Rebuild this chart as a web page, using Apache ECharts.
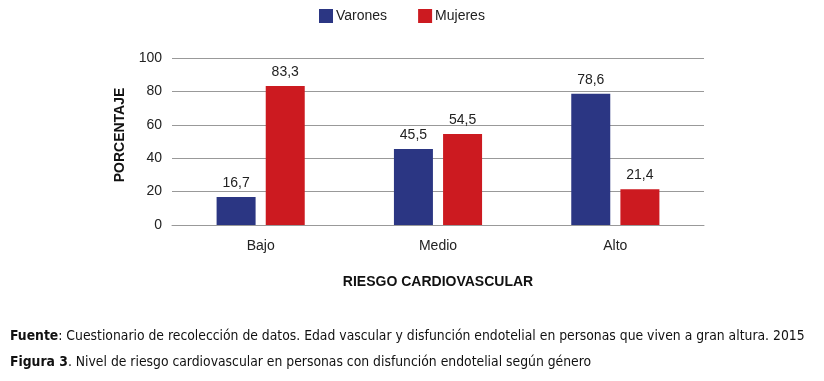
<!DOCTYPE html>
<html><head><meta charset="utf-8">
<script src="https://cdn.jsdelivr.net/npm/echarts@6/dist/echarts.min.js"></script>
<style>html,body{margin:0;padding:0;background:#fff}#c{width:824px;height:381px}</style>
</head><body><div id="c"></div>
<script>
const categories = ['Bajo', 'Medio', 'Alto'];
const varones = [16.7, 45.5, 78.6];
const mujeres = [83.3, 54.5, 21.4];
const yTicks = { min: 0, max: 100, interval: 20 };
const seriesNames = ['Varones', 'Mujeres'];

const FONT = 'Arial';
const chart = echarts.init(document.getElementById('c'), null, { renderer: 'canvas' });
const fmt = p => String(p.value).replace('.', ',');
const lbl = { show: true, position: 'top', distance: 7, formatter: fmt, fontFamily: FONT, fontSize: 14, color: '#222' };
chart.setOption({
  animation: false,
  legend: {
    top: 4, left: 314, itemWidth: 14, itemHeight: 14, itemGap: 31,
    icon: 'rect',
    textStyle: { fontFamily: FONT, fontSize: 14, color: '#222', padding: [0, 0, 0, -2] },
    data: seriesNames
  },
  grid: { left: 172, right: 120, top: 58, bottom: 156, containLabel: false },
  xAxis: {
    type: 'category', data: categories,
    axisLine: { lineStyle: { color: '#999' } },
    axisTick: { show: false },
    axisLabel: { fontFamily: FONT, fontSize: 14, color: '#222', margin: 14 },
    name: 'RIESGO CARDIOVASCULAR', nameLocation: 'middle', nameGap: 50,
    nameTextStyle: { fontFamily: FONT, fontWeight: 'bold', fontSize: 14, color: '#111' }
  },
  yAxis: {
    type: 'value', min: yTicks.min, max: yTicks.max, interval: yTicks.interval,
    axisLine: { show: false }, axisTick: { show: false },
    splitLine: { lineStyle: { color: '#999' } },
    axisLabel: { fontFamily: FONT, fontSize: 14, color: '#222', margin: 10 }
  },
  series: [
    { name: seriesNames[0], type: 'bar', data: varones, barWidth: 39, barGap: '26%', itemStyle: { color: '#2b3683' }, label: lbl },
    { name: seriesNames[1], type: 'bar', data: mujeres, barWidth: 39, itemStyle: { color: '#cc1a20' }, label: lbl }
  ],
  graphic: [
    { type: 'text', x: 120, y: 135, rotation: Math.PI / 2,
      style: { text: 'PORCENTAJE', align: 'center', verticalAlign: 'middle', font: 'bold 14px Arial', fill: '#111' } },
    { type: 'text', x: 10, y: 336, style: { text: '{b|Fuente}: Cuestionario de recolección de datos. Edad vascular y disfunción endotelial en personas que viven a gran altura. 2015',
      verticalAlign: 'middle',
      rich: { b: { fontWeight: 'bold', fontFamily: 'DejaVu Sans Condensed', fontSize: 13.8, fill: '#111' } },
      font: '13.8px "DejaVu Sans Condensed"', fill: '#111' } },
    { type: 'text', x: 10, y: 362, style: { text: '{b|Figura 3}. Nivel de riesgo cardiovascular en personas con disfunción endotelial según género',
      verticalAlign: 'middle',
      rich: { b: { fontWeight: 'bold', fontFamily: 'DejaVu Sans Condensed', fontSize: 13.8, fill: '#111' } },
      font: '13.8px "DejaVu Sans Condensed"', fill: '#111' } }
  ]
});
</script></body></html>
